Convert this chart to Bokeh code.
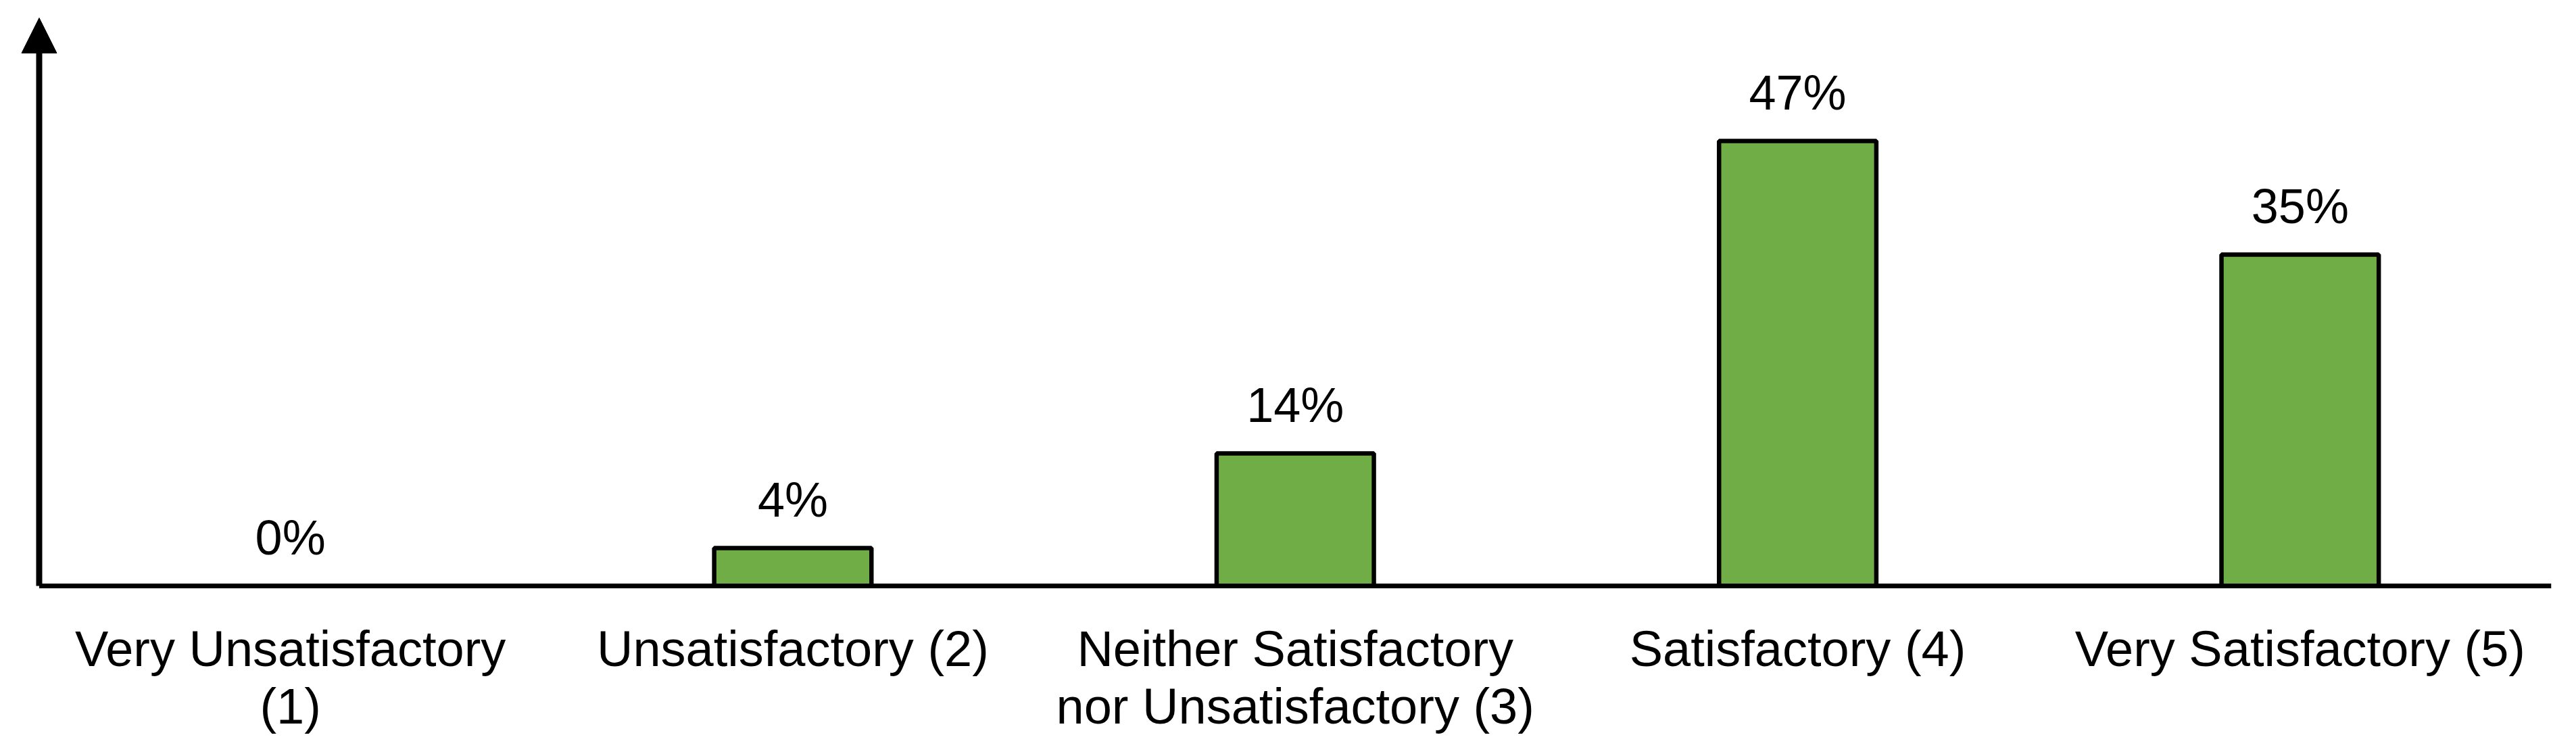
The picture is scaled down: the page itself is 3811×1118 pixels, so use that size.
from bokeh.plotting import figure
from bokeh.models import Range1d, Arrow, NormalHead, ColumnDataSource, FixedTicker
from bokeh.core.properties import value
from bokeh.embed import file_html
from bokeh.resources import INLINE

categories = [
    "Very Unsatisfactory\n(1)",
    "Unsatisfactory (2)",
    "Neither Satisfactory\nnor Unsatisfactory (3)",
    "Satisfactory (4)",
    "Very Satisfactory (5)",
]
percent_values = [0, 4, 14, 47, 35]
percent_labels = [f"{v}%" for v in percent_values]

FONT = "Liberation Sans"
Y_TOP = 60
n = len(categories)
positions = [i + 0.5 for i in range(n)]

p = figure(
    width=3795, height=1102,
    x_range=Range1d(-0.0531, n),
    y_range=Range1d(-0.5, Y_TOP + 1),
    output_backend="svg", toolbar_location=None,
    min_border_left=18, min_border_right=21, min_border_top=12, min_border_bottom=229,
)
p.outline_line_color = None
p.xgrid.visible = False
p.ygrid.visible = False
p.yaxis.visible = False
p.background_fill_color = "white"
p.border_fill_color = "white"

src = ColumnDataSource(dict(x=positions, val=percent_values, lab=percent_labels))

p.vbar(x="x", top="val", bottom=0, width=0.313, source=src,
       fill_color="#70AD47", line_color="black", line_width=6.5)

p.text(x="x", y="val", text="lab", source=src,
       text_align="center", text_baseline="alphabetic", y_offset=-72,
       text_font=value(FONT), text_font_size="72px", text_color="black")

# x axis line
p.segment(x0=[0], y0=[0], x1=[n], y1=[0], line_color="black", line_width=7)

ax = p.xaxis[0]
ax.ticker = FixedTicker(ticks=positions, minor_ticks=[])
ax.major_label_overrides = {pos: lab for pos, lab in zip(positions, categories)}
ax.axis_line_color = None
ax.major_tick_line_color = None
ax.minor_tick_line_color = None
ax.major_tick_out = 0
ax.major_tick_in = 0
ax.major_label_standoff = 44
ax.major_label_text_font = FONT
ax.major_label_text_font_size = "74px"
ax.major_label_text_color = "black"
ax.major_label_text_line_height = 1.025

p.add_layout(Arrow(
    x_start=0, y_start=0, x_end=0, y_end=Y_TOP,
    line_width=9, line_color="black",
    end=NormalHead(size=52, fill_color="black", line_color="black", line_width=1),
))

open("out.html", "w").write(file_html(p, INLINE))
